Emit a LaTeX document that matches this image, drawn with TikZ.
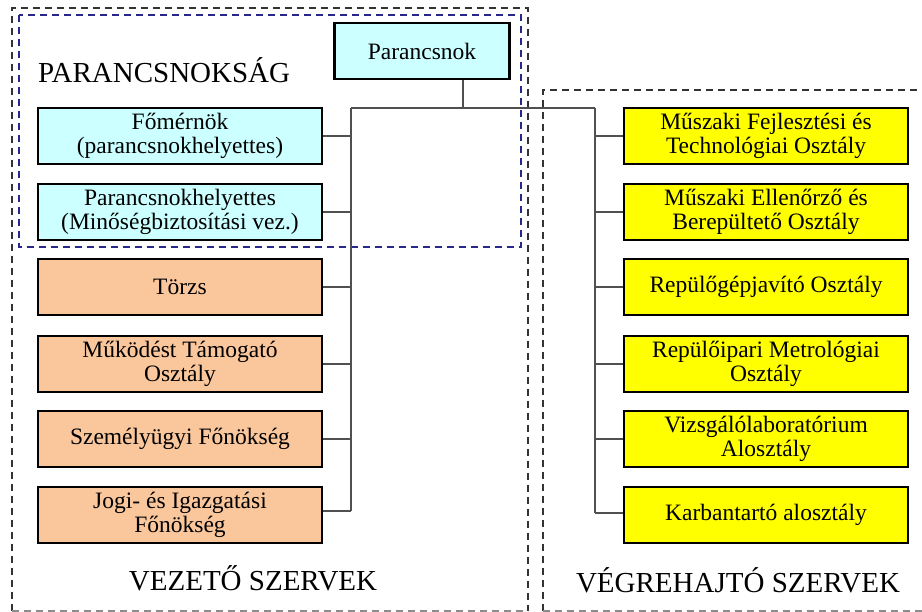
\documentclass[tikz,border=0pt]{standalone}
\usepackage{fontspec}
\setmainfont{Liberation Serif}
\definecolor{cyanfill}{RGB}{204,255,255}
\definecolor{peach}{RGB}{250,198,156}
\definecolor{yel}{RGB}{255,255,0}
\definecolor{navy}{RGB}{40,40,140}
\definecolor{conngray}{RGB}{80,80,80}
\begin{document}
\begin{tikzpicture}[x=1pt,y=-1pt,
  box/.style={draw=black, line width=2.8pt, minimum width=284pt, minimum height=56pt,
    align=center, inner sep=0pt, font=\fontsize{23.5}{24}\selectfont},
  cbox/.style={box, fill=cyanfill},
  obox/.style={box, fill=peach},
  ybox/.style={box, fill=yel},
  conn/.style={draw=conngray, line width=1.6pt},
  blackdash/.style={draw=black!80, line width=2.7pt, dash pattern=on 7pt off 5pt},
  bluedash/.style={draw=navy, line width=2.7pt, dash pattern=on 7pt off 5pt},
  graydash/.style={draw=black!45, line width=1.6pt, dash pattern=on 7pt off 5pt},
  biglabel/.style={font=\fontsize{29}{32}\selectfont, inner sep=0pt}]
\useasboundingbox (0,0) rectangle (922,612);

% dashed frames
\draw[blackdash] (12,611) -- (12,8) -- (528,8) -- (528,611);
\draw[graydash] (12,611) -- (528,611);
\draw[blackdash] (543,611) -- (543,90) -- (930,90);
\draw[graydash] (543,611) -- (930,611);
\draw[bluedash] (19,15) rectangle (521,247);

% commander
\node[cbox, minimum width=175pt] (par) at (422,51) {Parancsnok};

% left boxes
\node[cbox] (fom) at (180,136) {Főmérnök\\(parancsnokhelyettes)};
\node[cbox] (phe) at (180,212) {Parancsnokhelyettes\\(Minőségbiztosítási vez.)};
\node[obox] (tor) at (180,287) {Törzs};
\node[obox] (mut) at (180,364) {Működést Támogató\\Osztály};
\node[obox] (szf) at (180,439) {Személyügyi Főnökség};
\node[obox] (jog) at (180,515) {Jogi- és Igazgatási\\Főnökség};

% right boxes
\node[ybox] (mfj) at (766,136) {Műszaki Fejlesztési és\\Technológiai Osztály};
\node[ybox] (mel) at (766,212) {Műszaki Ellenőrző és\\Berepültető Osztály};
\node[ybox] (rgj) at (766,287) {Repülőgépjavító Osztály};
\node[ybox] (rim) at (766,364) {Repülőipari Metrológiai\\Osztály};
\node[ybox] (viz) at (766,439) {Vizsgálólaboratórium\\Alosztály};
\node[ybox] (kar) at (766,515) {Karbantartó alosztály};

% labels
\node[biglabel, anchor=base west] (lpar) at (38,83) {PARANCSNOKSÁG};
\node[biglabel] (lvez) at (253,578) {VEZETŐ SZERVEK};
\node[biglabel] (lveg) at (738,580) {VÉGREHAJTÓ SZERVEK};

% connectors
\coordinate (junc) at (463,108);
\coordinate (lt) at (351,108);
\coordinate (rt) at (595,108);
\coordinate (ltb) at (351,511);
\coordinate (rtb) at (595,513);
\draw[conn] (par.south -| junc) -- (junc);
\draw[conn] (lt) -- (rt);
\draw[conn] (lt) -- (ltb);
\draw[conn] (rt) -- (rtb);
\foreach \n in {fom,phe,tor,mut,szf}
  \draw[conn] (\n.east) -- (\n.east -| lt);
\draw[conn] ([yshift=4pt]jog.east) -- (ltb);
\foreach \n in {mfj,mel,rgj,rim,viz}
  \draw[conn] (\n.west) -- (\n.west -| rt);
\draw[conn] ([yshift=2pt]kar.west) -- (rtb);
\end{tikzpicture}
\end{document}
